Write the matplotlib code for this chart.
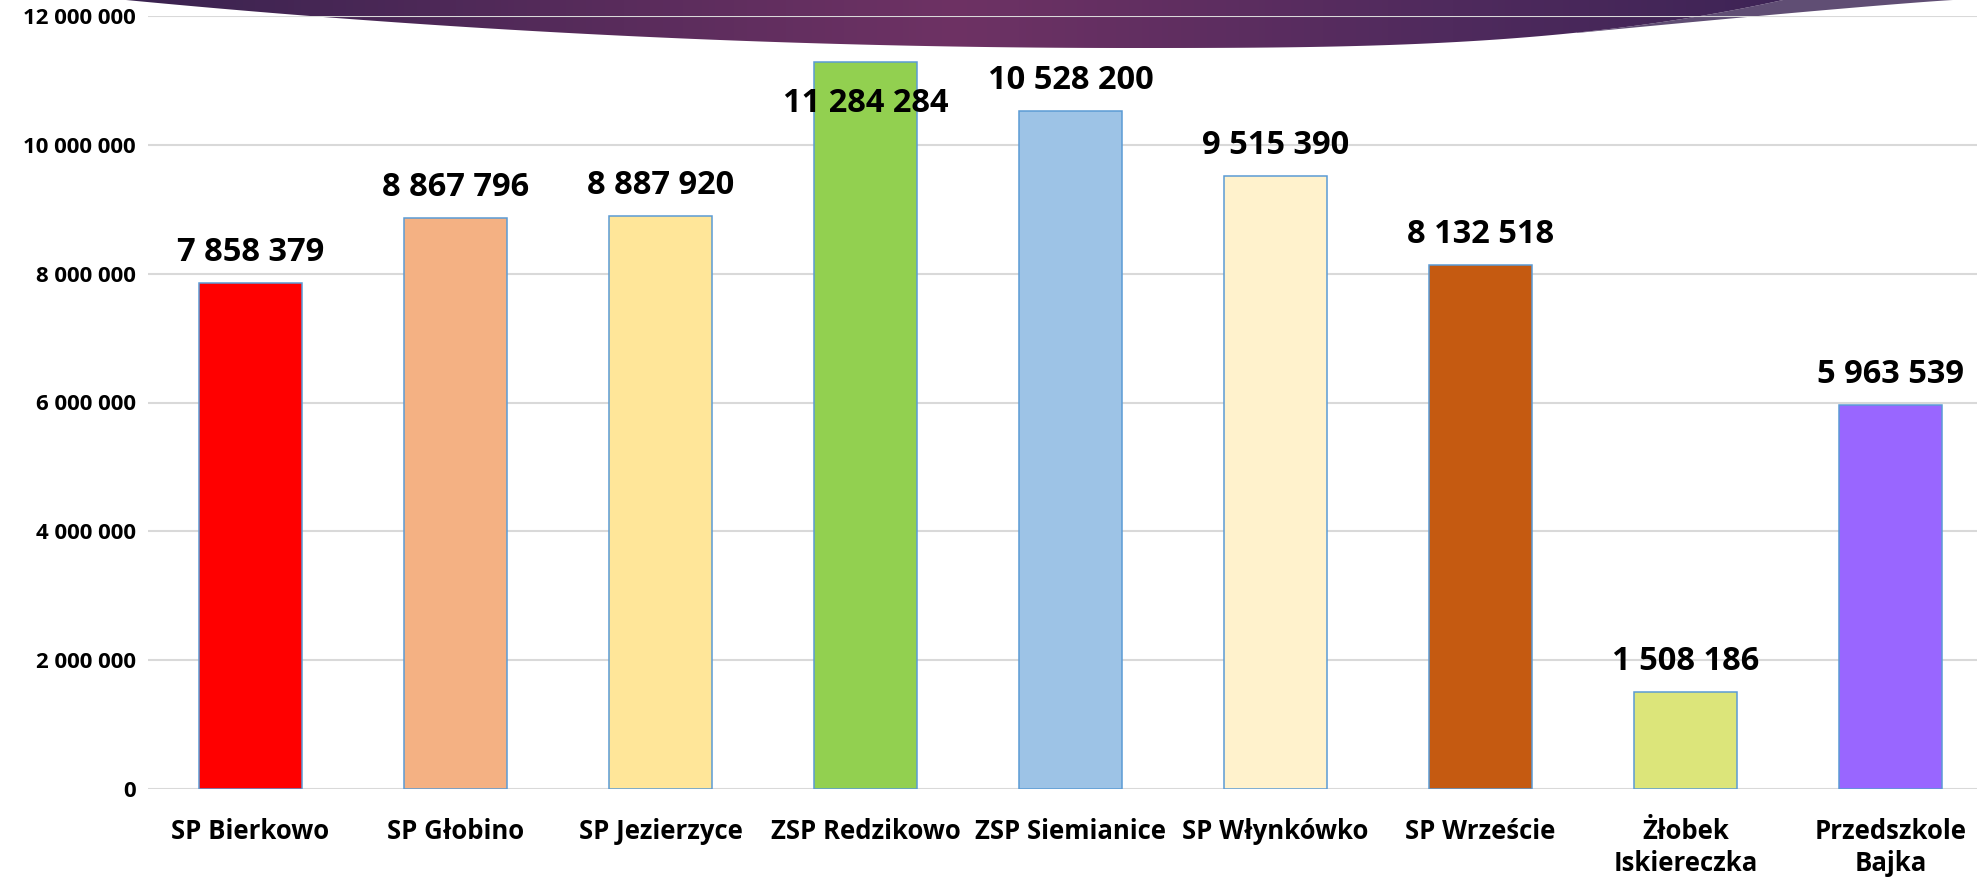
"""
Bar chart: budget per school/institution, with the purple slide banner at the top.
"""
import numpy as np
import matplotlib
matplotlib.use("Agg")
import matplotlib.pyplot as plt
from matplotlib.colors import LinearSegmentedColormap
from matplotlib.patches import Polygon

# data
categories = ["SP Bierkowo", "SP Głobino", "SP Jezierzyce", "ZSP Redzikowo",
              "ZSP Siemianice", "SP Włynkówko", "SP Wrzeście",
              "Żłobek\nIskiereczka", "Przedszkole\nBajka"]
values = [7858379, 8867796, 8887920, 11284284, 10528200, 9515390, 8132518,
          1508186, 5963539]
bar_colors = ["#ff0000", "#f4b183", "#ffe699", "#92d050", "#9dc3e6",
              "#fff2cc", "#c55a11", "#dce57a", "#9966ff"]
yticks = [0, 2000000, 4000000, 6000000, 8000000, 10000000, 12000000]


def fmt(v):
    return f"{v:,.0f}".replace(",", " ")


def main():
    plt.rcParams.update({
        "font.family": ["Open Sans", "DejaVu Sans"],
        "font.weight": "bold",
    })

    W, H = 1977, 877
    fig = plt.figure(figsize=(W / 100, H / 100), dpi=100)

    # background banner (pixel coords, y down)
    bg = fig.add_axes([0, 0, 1, 1])
    bg.set_xlim(0, W)
    bg.set_ylim(H, 0)
    bg.axis("off")

    cx, depth = 1130, 48
    xs = np.linspace(126, 1783, 300)
    ys = np.where(xs < cx,
                  depth - depth * ((cx - xs) / (cx - 126)) ** 2,
                  depth - depth * ((xs - cx) / (1783 - cx)) ** 3)
    ys = np.clip(ys, 0, None)
    dark = Polygon(np.column_stack([np.r_[xs, 1783, 126], np.r_[ys, -2, -2]]),
                   closed=True, facecolor="none", edgecolor="none")
    bg.add_patch(dark)
    cmap = LinearSegmentedColormap.from_list(
        "banner", [(0, "#3a2350"), (0.5, "#6e3264"), (0.8, "#4f2a5d"), (1, "#3e2456")])
    grad = np.linspace(0, 1, 512)[None, :]
    im = bg.imshow(grad, cmap=cmap, extent=(126, 1783, 60, -2), aspect="auto", zorder=1)
    im.set_clip_path(dark)

    # lighter swoosh on the right
    lx = np.linspace(1577, 1953, 100)
    ly = 33 * (1 - (lx - 1577) / 376) ** 1.1
    ux = np.linspace(1783, 1577, 100)
    uy = depth - depth * ((ux - cx) / (1783 - cx)) ** 3
    light = Polygon(np.column_stack([np.r_[lx, ux], np.r_[ly, uy]]), closed=True,
                    facecolor="#604e74", edgecolor="none", zorder=0.5)
    bg.add_patch(light)

    # main chart
    left, bottom, top = 148 / W, 1 - 789 / H, 1 - 16 / H
    ax = fig.add_axes([left, bottom, 1 - left, top - bottom])
    ax.set_facecolor("none")

    x = np.arange(len(categories))
    ax.bar(x, values, width=0.5, color=bar_colors, edgecolor="#5b9bd5",
           linewidth=1.1, zorder=3)

    ymax = yticks[-1]
    for xi, v in zip(x, values):
        # label goes inside the bar when it would run past the top
        off = -36 if v > 0.93 * ymax else 16
        ax.annotate(fmt(v), xy=(xi, v), xytext=(0, off), textcoords="offset points",
                    ha="center", va="baseline", fontsize=23.5, fontweight="bold",
                    color="black", zorder=4)

    ax.set_xlim(-0.5, -0.5 + (W - 148) / 205)
    ax.set_ylim(0, ymax)
    ax.set_yticks(yticks)
    ax.set_yticklabels([fmt(t) for t in yticks], fontsize=16, fontweight="bold")
    ax.set_xticks(x)
    ax.set_xticklabels(categories, fontsize=18.5, fontweight="bold", linespacing=1.25)
    ax.tick_params(axis="y", length=0, pad=9)
    ax.tick_params(axis="x", length=0, pad=21)
    for s in ax.spines.values():
        s.set_visible(False)
    ax.grid(axis="y", color="#d9d9d9", linewidth=1.5, zorder=0)
    ax.set_axisbelow(True)

    fig.savefig("out.png", dpi=100)
    plt.close(fig)


if __name__ == "__main__":
    main()
